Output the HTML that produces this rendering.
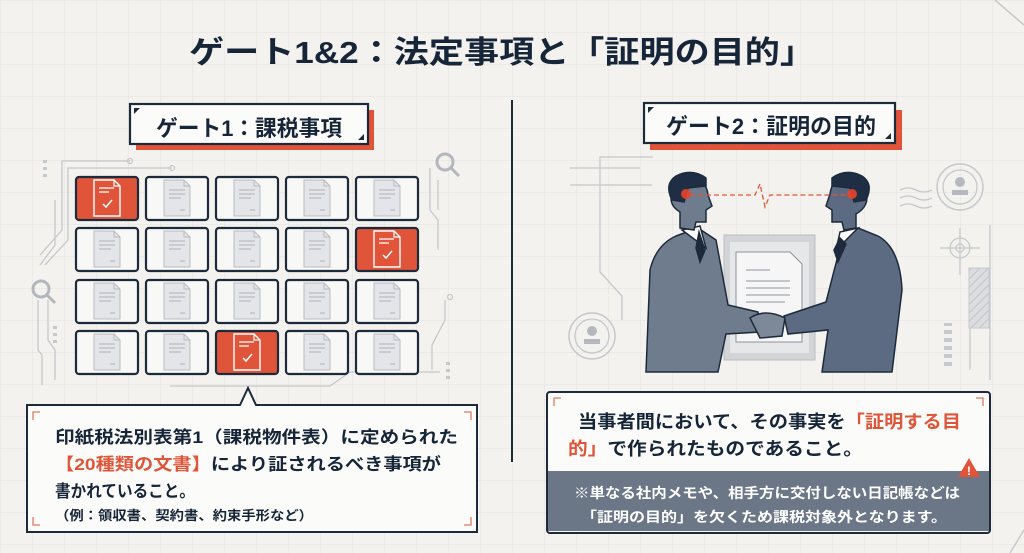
<!DOCTYPE html>
<html><head><meta charset="utf-8"><style>
html,body{margin:0;padding:0;background:#f3f2ee;}
svg{display:block;}
text{font-family:"Liberation Sans","Noto Sans CJK JP",sans-serif;font-weight:bold;}
</style></head><body>
<svg width="1024" height="553" viewBox="0 0 1024 553" xmlns="http://www.w3.org/2000/svg">
<defs>
<pattern id="grid" width="32" height="32" patternUnits="userSpaceOnUse">
<path d="M32 0H0V32" fill="none" stroke="#e3e2dd" stroke-width="1"/>
</pattern>
<pattern id="hatch" width="6" height="6" patternUnits="userSpaceOnUse" patternTransform="rotate(45)">
<rect width="6" height="6" fill="#dcdde0"/><line x1="0" y1="0" x2="0" y2="6" stroke="#bfc2c7" stroke-width="2"/>
</pattern>
<g id="doc">
<path d="M-13 -18H7L13 -12V18H-13Z" fill="#e4e5e8" stroke="#b9bcc2" stroke-width="1"/>
<path d="M7 -18V-12H13" fill="none" stroke="#b9bcc2"/>
<path d="M-8 -8H8M-8 -4H8M-8 0H4M3 12H8" stroke="#b9bcc2" stroke-width="1.3"/>
</g>
<g id="docr">
<path d="M-13 -18H7L13 -12V18H-13Z" fill="none" stroke="#fff" stroke-width="1.4"/>
<path d="M7 -18V-12H13" fill="none" stroke="#fff" stroke-width="1.2"/>
<path d="M-8 -10H7M-8 -6H2" stroke="#fff" stroke-width="1.3"/>
<path d="M-4 6L-1 9L5 2" fill="none" stroke="#fff" stroke-width="1.5"/>
</g>
</defs>
<rect width="1024" height="553" fill="#f3f2ee"/>
<rect width="1024" height="553" fill="url(#grid)"/>
<path d="M995 0L1024 25M1010 553L1024 530" stroke="#c7c9cd" stroke-width="1.5"/>

<text x="502" y="63" font-size="31" fill="#172538" text-anchor="middle" textLength="626" lengthAdjust="spacingAndGlyphs">ゲート1&amp;2：法定事項と「証明の目的」</text>

<line x1="512" y1="100" x2="512" y2="462" stroke="#1d2a3b" stroke-width="2"/>

<rect x="136" y="110" width="238" height="40" fill="#e0553a"/>
<rect x="130" y="104" width="238" height="40" fill="#fbfbf9" stroke="#1d2a3b" stroke-width="2.2"/>
<path d="M134 108h6l-6 6z" fill="#1d2a3b"/><path d="M364 140h-6l6-6z" fill="#1d2a3b"/>
<text x="156" y="136" font-size="22" fill="#172538" textLength="186" lengthAdjust="spacingAndGlyphs">ゲート1：課税事項</text>

<g fill="none" stroke="#c5c8cc" stroke-width="1.3">
<path d="M130 161H62V230L40 255"/><circle cx="130" cy="161" r="2.5"/>
<path d="M172 168H68V240L45 265"/><circle cx="172" cy="168" r="2.5"/>
<path d="M55 200V245L40 265"/><path d="M48 300V340L55 350V380"/>
<path d="M38 300V350L42 355V385"/>
<path d="M430 168V210L438 220V250"/><path d="M438 180V210"/>
<path d="M445 300V320L432 345V370"/><circle cx="450" cy="297" r="2.5"/>
<path d="M170 386H330L350 372H440"/>
</g>
<g fill="#c5c8cc"><rect x="43" y="160" width="4" height="3"/><rect x="43" y="167" width="4" height="3"/><rect x="43" y="174" width="4" height="3"/>
<rect x="53" y="326" width="4" height="3"/><rect x="53" y="333" width="4" height="3"/><rect x="53" y="340" width="4" height="3"/>
<rect x="446" y="362" width="4" height="3"/><rect x="446" y="369" width="4" height="3"/><rect x="446" y="376" width="4" height="3"/></g>
<g fill="none" stroke="#b3b7bd" stroke-width="3"><circle cx="445" cy="162" r="8"/><path d="M451 168L459 176"/>
<circle cx="41" cy="289" r="8"/><path d="M47 295L55 303"/></g>

<g stroke="#1d2a3b" stroke-width="2.2" fill="#f8f8f6">
<rect x="76" y="177" width="62" height="43" rx="3" fill="#e0553a"/><rect x="146" y="177" width="62" height="43" rx="3"/><rect x="216" y="177" width="62" height="43" rx="3"/><rect x="286" y="177" width="62" height="43" rx="3"/><rect x="356" y="177" width="62" height="43" rx="3"/>
<rect x="76" y="228" width="62" height="43" rx="3"/><rect x="146" y="228" width="62" height="43" rx="3"/><rect x="216" y="228" width="62" height="43" rx="3"/><rect x="286" y="228" width="62" height="43" rx="3"/><rect x="356" y="228" width="62" height="43" rx="3" fill="#e0553a"/>
<rect x="76" y="280" width="62" height="43" rx="3"/><rect x="146" y="280" width="62" height="43" rx="3"/><rect x="216" y="280" width="62" height="43" rx="3"/><rect x="286" y="280" width="62" height="43" rx="3"/><rect x="356" y="280" width="62" height="43" rx="3"/>
<rect x="76" y="331" width="62" height="43" rx="3"/><rect x="146" y="331" width="62" height="43" rx="3"/><rect x="216" y="331" width="62" height="43" rx="3" fill="#e0553a"/><rect x="286" y="331" width="62" height="43" rx="3"/><rect x="356" y="331" width="62" height="43" rx="3"/>
</g>
<use href="#docr" x="107" y="198"/><use href="#doc" x="177" y="198"/><use href="#doc" x="247" y="198"/><use href="#doc" x="317" y="198"/><use href="#doc" x="387" y="198"/>
<use href="#doc" x="107" y="249"/><use href="#doc" x="177" y="249"/><use href="#doc" x="247" y="249"/><use href="#doc" x="317" y="249"/><use href="#docr" x="387" y="249"/>
<use href="#doc" x="107" y="301"/><use href="#doc" x="177" y="301"/><use href="#doc" x="247" y="301"/><use href="#doc" x="317" y="301"/><use href="#doc" x="387" y="301"/>
<use href="#doc" x="107" y="352"/><use href="#doc" x="177" y="352"/><use href="#docr" x="247" y="352"/><use href="#doc" x="317" y="352"/><use href="#doc" x="387" y="352"/>

<path d="M27 405H120H240L248 388L256 405H477V532H27Z" fill="#fbfbf9" stroke="#1d2a3b" stroke-width="2"/>
<g fill="none" stroke="#e07a60" stroke-width="1.3"><path d="M33 420V412H40"/><path d="M471 420V412H464"/><path d="M33 517V525H40"/><path d="M471 517V525H464"/></g>
<text x="55" y="443" font-size="17" fill="#172538" textLength="403" lengthAdjust="spacingAndGlyphs">印紙税法別表第1（課税物件表）に定められた</text>
<text x="55" y="470" font-size="17" fill="#172538" textLength="386" lengthAdjust="spacingAndGlyphs"><tspan fill="#e0553a">【20種類の文書】</tspan>により証されるべき事項が</text>
<text x="55" y="497" font-size="17" fill="#172538" textLength="140" lengthAdjust="spacingAndGlyphs">書かれていること。</text>
<text x="55" y="520" font-size="13" fill="#172538" textLength="258" lengthAdjust="spacingAndGlyphs">（例：領収書、契約書、約束手形など）</text>

<rect x="650" y="110" width="252" height="40" fill="#e0553a"/>
<rect x="644" y="103" width="251" height="40" fill="#fbfbf9" stroke="#1d2a3b" stroke-width="2.2"/>
<path d="M648 107h6l-6 6z" fill="#1d2a3b"/><path d="M891 139h-6l6-6z" fill="#1d2a3b"/>
<text x="666" y="134" font-size="22" fill="#172538" textLength="210" lengthAdjust="spacingAndGlyphs">ゲート2：証明の目的</text>

<g fill="none" stroke="#c5c8cc" stroke-width="1.3">
<path d="M653 157H600V272L622 296V320"/><path d="M570 168H640"/><path d="M570 185H652"/>
<circle cx="592" cy="336" r="23" stroke-width="1.5"/><circle cx="592" cy="336" r="17"/>
<circle cx="960" cy="187" r="23" stroke-width="1.5"/><circle cx="960" cy="187" r="17"/>
<path d="M900 190q8-4 16 0t16 0M900 198q8-4 16 0t16 0M900 206q8-4 16 0t16 0"/>
<circle cx="960" cy="248" r="10"/><circle cx="960" cy="248" r="4"/><path d="M940 248H980M960 228V275"/>
<path d="M970 268V370M990 225V380"/>
</g>
<rect x="969" y="268" width="20" height="60" fill="url(#hatch)" stroke="#c5c8cc"/>
<g fill="#c5c8cc"><rect x="944" y="323" width="8" height="3"/><rect x="944" y="330" width="8" height="4"/><rect x="944" y="338" width="8" height="4"/><rect x="944" y="346" width="8" height="4"/><rect x="944" y="354" width="8" height="4"/><rect x="944" y="362" width="8" height="4"/></g>
<g fill="#b5b9bf"><circle cx="592" cy="331" r="5"/><rect x="584" y="339" width="16" height="5"/><circle cx="960" cy="182" r="5"/><rect x="952" y="190" width="16" height="5"/></g>

<rect x="724" y="235" width="91" height="125" fill="#d2d4d8" stroke="#b9bcc1"/>
<rect x="730" y="242" width="79" height="111" fill="#e6e7e9"/>
<path d="M736 252H790L802 264V342H736Z" fill="#f6f6f6" stroke="#8c929b"/>
<path d="M746 270H770M746 281H790M746 288H790M746 295H790M746 302H785" stroke="#a4a9b0" stroke-width="1.2"/>

<g stroke="#1d2a3b" stroke-width="1.5">
<!-- left man body -->
<path d="M646 372L650 270Q656 245 676 236L698 228L716 240L728 305L758 312L760 332L726 334L718 372Z" fill="#6f7c8e"/>
<path d="M682 230L700 226L706 248Z" fill="#fff"/>
<path d="M699 232L705 250L700 262L696 248Z" fill="#1d2a3b"/>
<!-- left head -->
<path d="M680 228L680 212Q668 205 672 192Q674 180 690 176Q706 178 708 195L712 206L706 210L706 222L696 222L694 230Z" fill="#6f7c8e"/>
<path d="M672 200Q664 184 676 176Q692 168 706 178L706 186L688 188L684 202Z" fill="#1f2e44"/>
<!-- right man body -->
<path d="M892 372L902 290Q900 248 878 236L858 228L842 240L826 302L784 316L788 334L828 330L822 372Z" fill="#5c6b82"/>
<path d="M840 232L858 228L836 250Z" fill="#fff"/>
<path d="M840 238L846 244L838 262L834 250Z" fill="#1d2a3b"/>
<!-- right head -->
<path d="M856 228L856 214Q870 206 866 192Q864 178 848 176Q832 178 830 194L826 206L832 210L832 222L842 222L844 230Z" fill="#5c6b82"/>
<path d="M866 200Q874 184 862 176Q846 168 832 178L832 186L850 188L854 202Z" fill="#1f2e44"/>
<!-- hands -->
<path d="M750 318Q765 308 785 318L782 336L760 338Z" fill="#7d8899"/>
</g>
<circle cx="686" cy="194" r="5" fill="#e8442a" opacity="0.9"/><circle cx="852" cy="194" r="5" fill="#e8442a" opacity="0.9"/>
<path d="M690 195H755L760 184L765 207L770 195H848" fill="none" stroke="#e0553a" stroke-width="1.3" stroke-dasharray="5 3"/>

<rect x="547" y="392" width="443" height="141" rx="3" fill="#fbfbf9" stroke="#1d2a3b" stroke-width="2"/>
<path d="M548 471H989V531H548Z" fill="#6b7787"/>
<g fill="none" stroke="#e07a60" stroke-width="1.3"><path d="M554 406V398H561"/><path d="M983 406V398H976"/></g>
<text x="578" y="428" font-size="18" fill="#172538" textLength="383" lengthAdjust="spacingAndGlyphs">当事者間において、その事実を<tspan fill="#e0553a">「証明する目</tspan></text>
<text x="568" y="455" font-size="18" fill="#172538" textLength="295" lengthAdjust="spacingAndGlyphs"><tspan fill="#e0553a">的」</tspan>で作られたものであること。</text>
<path d="M969 458L980 477H958Z" fill="#e0553a"/><text x="969" y="475" font-size="12" fill="#fff" text-anchor="middle">!</text>
<text x="574" y="498" font-size="14" fill="#fff" font-weight="normal" textLength="386" lengthAdjust="spacingAndGlyphs">※単なる社内メモや、相手方に交付しない日記帳などは</text>
<text x="581" y="522" font-size="14" fill="#fff" textLength="366" lengthAdjust="spacingAndGlyphs">「証明の目的」を欠くため課税対象外となります。</text>
</svg>
</body></html>
